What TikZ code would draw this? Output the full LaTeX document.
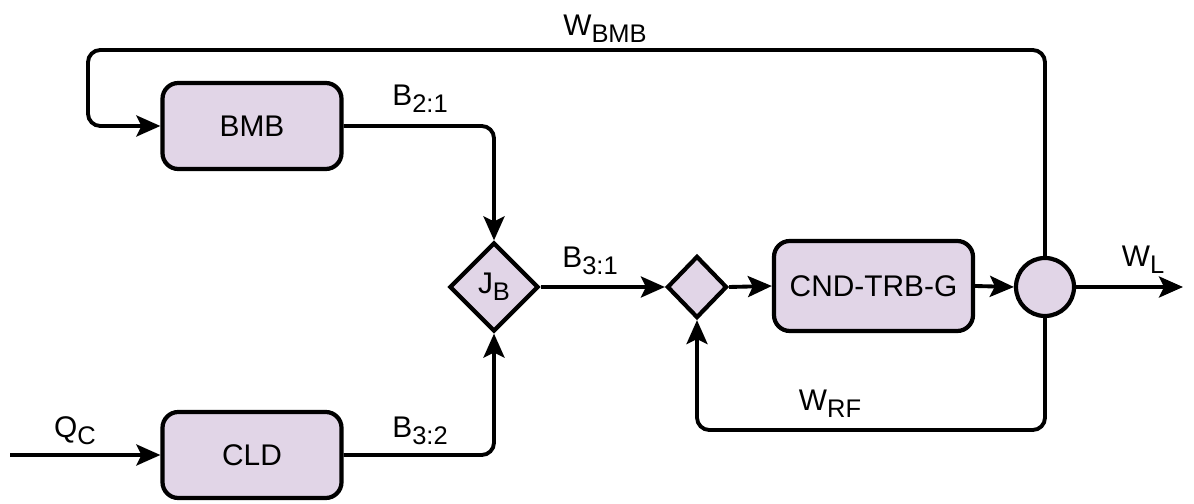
\documentclass[tikz,border=0pt]{standalone}
\usepackage{fontspec}
\setmainfont{Liberation Sans}
\usetikzlibrary{arrows.meta,positioning,shapes.geometric}
\definecolor{Ink}{RGB}{0,0,0}
\definecolor{SoftLilac}{RGB}{225,213,231}
\newcommand{\lowsub}[1]{\raisebox{-0.45ex}{\fontsize{14.5}{14.5}\selectfont #1}}
\tikzset{
  >=Stealth,
  block/.style={draw=Ink,line width=2.4pt,rounded corners=9pt,fill=SoftLilac,align=center,font=\fontsize{17}{20}\selectfont,minimum width=3.58cm,minimum height=1.72cm},
  junction/.style={diamond,draw=Ink,line width=2.4pt,fill=SoftLilac,inner sep=0pt,font=\fontsize{17}{20}\selectfont},
  summer/.style={circle,draw=Ink,line width=2.4pt,fill=SoftLilac,inner sep=0pt,minimum size=1.16cm},
  flow/.style={-{Stealth[length=4.8mm,width=4.2mm,inset=1mm]},line width=2.2pt,draw=Ink,rounded corners=7pt},
  tag/.style={font=\fontsize{17}{20}\selectfont,text=Ink}
}
\begin{document}
\begin{tikzpicture}[x=1cm,y=1cm]
  \useasboundingbox (0,0) rectangle (23.88,10.08);
  % blocks
  \node[block] (bmb) at (5.04,7.56) {BMB};
  \node[block] (cld) at (5.04,0.98) {CLD};
  \node[block,minimum width=3.98cm,minimum height=1.8cm] (cnd) at (17.47,4.36) {CND-TRB-G};
  \node[junction,minimum width=1.78cm,minimum height=1.78cm] (jb) at (9.88,4.34) {J\lowsub{B}};
  \node[junction,minimum width=1.2cm,minimum height=1.24cm] (mix) at (13.94,4.34) {};
  \node[summer] (split) at (20.9,4.34) {};
  % free ends and corners
  \coordinate (qc) at (0.2,0.98);
  \coordinate (wl) at (23.66,4.34);
  \coordinate (topR) at (20.9,9.08);
  \coordinate (topL) at (1.76,9.08);
  \coordinate (botR) at (20.9,1.48);
  \coordinate (botL) at (13.94,1.48);
  % connectors
  \draw[flow] (split.north) -- (topR) -- (topL) |- (bmb.west);
  \draw[flow] (bmb.east) -| (jb.north);
  \draw[flow] (cld.east) -| (jb.south);
  \draw[flow] (qc) -- (cld.west);
  \draw[flow] (jb.east) -- (mix.west);
  \draw[flow] (mix.east) -- (cnd.west);
  \draw[flow] (cnd.east) -- (split.west);
  \draw[flow] (split.east) -- (wl);
  \draw[flow] (split.south) -- (botR) -- (botL) -- (mix.south);
  % labels
  \node[tag] (wbmb) at (12.1,9.5) {W\lowsub{BMB}};
  \node[tag] (b21) at (8.4,8.1) {B\lowsub{2:1}};
  \node[tag] (b31) at (11.8,4.86) {B\lowsub{3:1}};
  \node[tag] (b32) at (8.4,1.46) {B\lowsub{3:2}};
  \node[tag] (qclab) at (1.5,1.46) {Q\lowsub{C}};
  \node[tag] (wllab) at (22.86,4.88) {W\lowsub{L}};
  \node[tag] (wrf) at (16.6,2.0) {W\lowsub{RF}};
\end{tikzpicture}
\end{document}
